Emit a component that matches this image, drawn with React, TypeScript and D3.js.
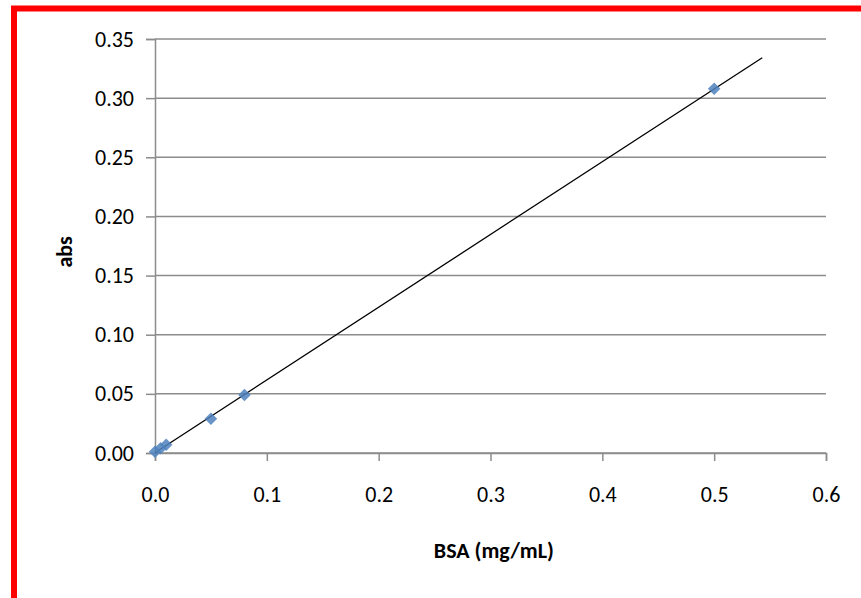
import { useRef, useEffect } from 'react';
import * as d3 from 'd3';

// BSA standard curve
const bsa = [0, 0.005, 0.01, 0.05, 0.08, 0.5];
const abs = [0.001, 0.004, 0.007, 0.029, 0.049, 0.308];
const xTicks = [0, 0.1, 0.2, 0.3, 0.4, 0.5, 0.6];
const yTicks = [0, 0.05, 0.1, 0.15, 0.2, 0.25, 0.3, 0.35];
const trendEnd = 0.543;

const FONT = "Carlito, 'Liberation Sans Narrow', 'Liberation Sans', sans-serif";

export default function App() {
  const svgRef = useRef<SVGSVGElement>(null);

  useEffect(() => {
    if (!svgRef.current) return;
    const svg = d3.select(svgRef.current);
    svg.selectAll('*').remove();

    const width = 861;
    const height = 598;
    const margin = { top: 39, right: 35, bottom: 145, left: 155 };
    const innerWidth = width - margin.left - margin.right;
    const innerHeight = height - margin.top - margin.bottom;

    const x = d3.scaleLinear().domain([0, 0.6]).range([0, innerWidth]);
    const y = d3.scaleLinear().domain([0, 0.35]).range([innerHeight, 0]);

    svg.append('rect').attr('width', width).attr('height', height).attr('fill', '#fff');

    // red frame (only left and top edges visible)
    svg.append('rect')
      .attr('x', 14).attr('y', 8.5)
      .attr('width', width + 20).attr('height', height + 20)
      .attr('fill', 'none').attr('stroke', '#ff0000').attr('stroke-width', 6);

    const g = svg.append('g').attr('transform', `translate(${margin.left},${margin.top})`);

    // gridlines
    g.selectAll('line.grid').data(yTicks).join('line')
      .attr('x1', 0).attr('x2', innerWidth)
      .attr('y1', d => y(d)).attr('y2', d => y(d))
      .attr('stroke', '#8c8c8c').attr('stroke-width', 1.5);

    // y axis
    const yAxis = g.append('g')
      .call(d3.axisLeft(y).tickValues(yTicks).tickFormat(d3.format('.2f')).tickSize(9).tickPadding(12));
    // x axis
    const xAxis = g.append('g')
      .attr('transform', `translate(0,${innerHeight})`)
      .call(d3.axisBottom(x).tickValues(xTicks).tickFormat(d3.format('.1f')).tickSize(8).tickPadding(25));

    [yAxis, xAxis].forEach(a => {
      a.select('.domain').attr('stroke', '#8c8c8c').attr('stroke-width', 1.5);
      a.selectAll('.tick line').attr('stroke', '#8c8c8c').attr('stroke-width', 1.5);
      a.selectAll('text').attr('font-family', FONT).attr('font-size', 22).attr('fill', '#000');
    });

    // least-squares trendline
    const mx = d3.mean(bsa) as number;
    const my = d3.mean(abs) as number;
    const slope = d3.sum(bsa, (v, i) => (v - mx) * (abs[i] - my)) / d3.sum(bsa, v => (v - mx) ** 2);
    const intercept = my - slope * mx;
    g.append('line')
      .attr('x1', x(0)).attr('y1', y(intercept))
      .attr('x2', x(trendEnd)).attr('y2', y(intercept + slope * trendEnd))
      .attr('stroke', '#000').attr('stroke-width', 1.3);

    // diamond markers
    const diamond = d3.symbol().type(d3.symbolDiamond2).size(100);
    g.selectAll('path.pt').data(bsa).join('path')
      .attr('transform', (d, i) => `translate(${x(d)},${y(abs[i])})`)
      .attr('d', diamond)
      .attr('fill', '#4f81bd')
      .attr('opacity', 0.85);

    // axis titles
    svg.append('text')
      .attr('x', margin.left + x(0.3 + 0.003)).attr('y', 558)
      .attr('text-anchor', 'middle')
      .attr('font-family', FONT).attr('font-size', 22).attr('font-weight', 'bold')
      .text('BSA (mg/mL)');

    svg.append('text')
      .attr('transform', `translate(72,${margin.top + y(0.17)}) rotate(-90)`)
      .attr('text-anchor', 'middle')
      .attr('font-family', FONT).attr('font-size', 22).attr('font-weight', 'bold')
      .text('abs');
  }, []);

  return (
    <svg
      ref={svgRef}
      width={861}
      height={598}
      style={{ position: 'absolute', left: 0, top: 0 }}
    />
  );
}
